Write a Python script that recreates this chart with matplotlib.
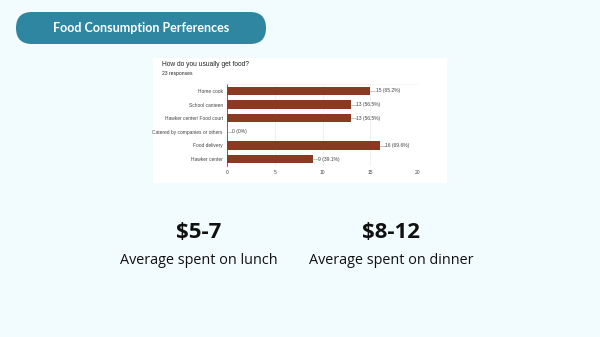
import matplotlib.pyplot as plt
from matplotlib.patches import FancyBboxPatch, Rectangle

categories = ["Home cook", "School canteen", "Hawker center/ Food court",
              "Catered by companies or others", "Food delivery", "Hawker center"]
counts = [15, 13, 13, 0, 16, 9]
percents = ["65.2%", "56.5%", "56.5%", "0%", "69.6%", "39.1%"]
xticks = [0, 5, 10, 15, 20]

W, H = 600, 337
fig = plt.figure(figsize=(6, 3.37), dpi=100)
fig.patch.set_facecolor("#F2FBFE")

# background layer in pixel coordinates
bg = fig.add_axes([0, 0, 1, 1], zorder=-1)
bg.set_xlim(0, W)
bg.set_ylim(H, 0)
bg.axis("off")
bg.add_patch(FancyBboxPatch((16, 12), 250, 32,
                            boxstyle="round,pad=0,rounding_size=16",
                            facecolor="#2E86A0", edgecolor="none"))
bg.text(141, 28, "Food Consumption Perferences", color="white",
        fontsize=9, fontweight="bold", family="Lato", ha="center", va="center")

# white panel behind the chart screenshot
bg.add_patch(Rectangle((153, 58), 294, 125, facecolor="white", edgecolor="none"))
bg.text(162, 65, "How do you usually get food?", fontsize=4.8,
        family="Liberation Sans", color="#202124", va="center")
bg.text(162, 73.5, "23 responses", fontsize=3.6,
        family="Liberation Sans", color="#202124", va="center")

ax = fig.add_axes([227 / W, 1 - 166 / H, 191 / W, 82 / H])
ax.set_facecolor("white")
y = list(range(len(categories)))
ax.barh(y, counts, height=0.62, color="#8B3A22", zorder=3)
for yi, c, p in zip(y, counts, percents):
    ax.plot([c, c + 0.5], [yi, yi], color="#999999", lw=0.4, zorder=3)
    ax.text(c + 0.55, yi, f"{c} ({p})", fontsize=3.6, va="center",
            family="Liberation Sans", color="#444444")
ax.set_xlim(0, 20)
ax.set_ylim(len(categories) - 0.5, -0.5)
ax.set_xticks(xticks)
ax.set_xticklabels([str(t) for t in xticks], fontsize=3.6, color="#444444",
                   family="Liberation Sans")
ax.set_yticks(y)
ax.set_yticklabels(categories, fontsize=3.5, color="#444444",
                   family="Liberation Sans")
ax.tick_params(length=0, pad=3)
ax.grid(axis="x", color="#E6E6E6", lw=0.4, zorder=0)
for s in ["right", "bottom"]:
    ax.spines[s].set_visible(False)
ax.spines["top"].set_color("#EEEEEE")
ax.spines["top"].set_linewidth(0.4)
ax.spines["left"].set_color("#333333")
ax.spines["left"].set_linewidth(0.5)

# summary figures
for xc, big, small in [(199, "$5-7", "Average spent on lunch"),
                       (391, "$8-12", "Average spent on dinner")]:
    bg.text(xc, 232, big, fontsize=16, fontweight="bold",
            family="Open Sans", ha="center", va="center", color="#111111")
    bg.text(xc, 260, small, fontsize=10.4, family="Open Sans",
            ha="center", va="center", color="#111111")

fig.savefig("out.png", dpi=100, facecolor=fig.get_facecolor())
